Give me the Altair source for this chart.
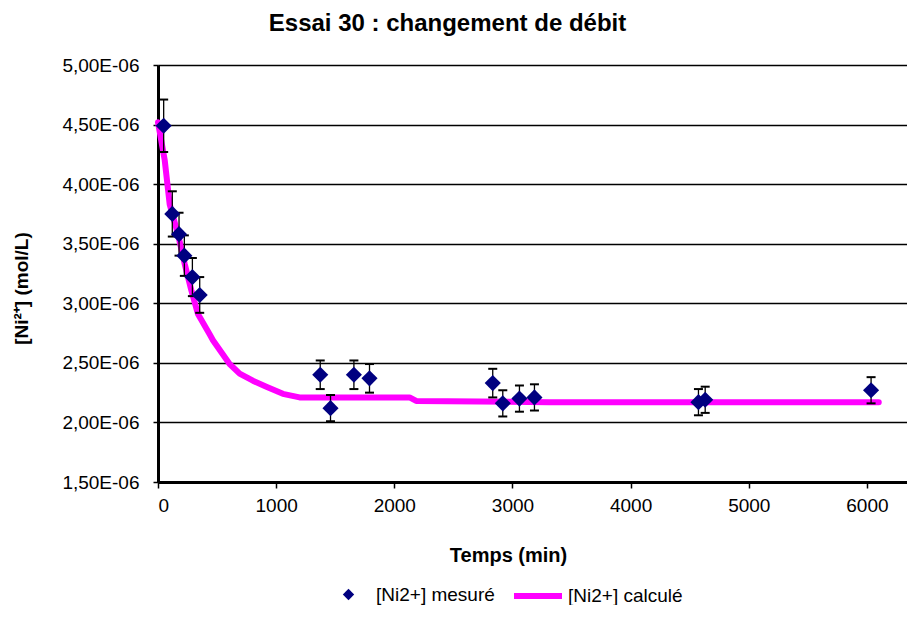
import altair as alt
import pandas as pd

FONT = "Liberation Sans"

# Measured points (time in min, concentration in 1e-6 mol/L, error bar half-width)
t_mesure = [48, 121, 178, 223, 291, 353, 1373, 1460, 1658, 1790, 2833, 2918, 3059, 3186, 4574, 4631, 6035]
c_mesure = [4.49, 3.75, 3.58, 3.40, 3.22, 3.07, 2.40, 2.12, 2.40, 2.37, 2.33, 2.16, 2.20, 2.21, 2.17, 2.19, 2.27]
err_mesure = [0.22, 0.19, 0.18, 0.17, 0.16, 0.15, 0.12, 0.11, 0.12, 0.12, 0.12, 0.11, 0.11, 0.11, 0.11, 0.11, 0.11]

# Calculated curve
t_calcule = [0, 57, 99, 169, 226, 282, 338, 437, 465, 606, 691, 803, 917, 1057, 1198, 2129, 2185, 3312, 6100]
c_calcule = [4.52, 4.20, 3.83, 3.58, 3.33, 3.11, 2.91, 2.74, 2.69, 2.49, 2.41, 2.35, 2.30, 2.24, 2.21, 2.21, 2.18, 2.17, 2.17]

x_ticks = [0, 1000, 2000, 3000, 4000, 5000, 6000]
y_ticks = [1.5, 2.0, 2.5, 3.0, 3.5, 4.0, 4.5, 5.0]

serie_mes = "[Ni2+] mesuré"
serie_calc = "[Ni2+] calculé"

mes = pd.DataFrame({
    "t": t_mesure,
    "c": [v * 1e-6 for v in c_mesure],
    "lo": [(v - e) * 1e-6 for v, e in zip(c_mesure, err_mesure)],
    "hi": [(v + e) * 1e-6 for v, e in zip(c_mesure, err_mesure)],
    "serie": serie_mes,
})
calc = pd.DataFrame({
    "t": t_calcule,
    "c": [v * 1e-6 for v in c_calcule],
    "serie": serie_calc,
})

xscale = alt.Scale(domain=[0, 6339], nice=False, zero=False)
yscale = alt.Scale(domain=[1.5e-6, 5.0e-6], nice=False, zero=False)

x_axis = alt.Axis(
    values=x_ticks, format="d", grid=False,
    title="Temps (min)", titleX=350, titleY=79, titleBaseline="alphabetic",
    titleFontSize=20, titleFontWeight="bold",
    labelFontSize=19, labelPadding=8, tickSize=6,
)
y_axis = alt.Axis(
    values=[v * 1e-6 for v in y_ticks],
    labelExpr="replace(format(datum.value*1e6, '.2f'), '.', ',') + 'E-06'",
    grid=True, gridColor="black", gridWidth=1.5,
    title="[Ni²⁺] (mol/L)", titleX=-131, titleY=223, titleAngle=270,
    titleBaseline="alphabetic", titleFontSize=19, titleFontWeight="bold",
    labelFontSize=19, labelPadding=14, tickSize=5,
)

X = lambda f: alt.X(f, type="quantitative", scale=xscale, axis=x_axis)
Y = lambda f: alt.Y(f, type="quantitative", scale=yscale, axis=y_axis)

line = alt.Chart(calc).mark_line(strokeWidth=6, strokeCap="round", strokeJoin="round").encode(
    x=X("t"),
    y=Y("c"),
    stroke=alt.Stroke(
        "serie:N", title=None,
        scale=alt.Scale(domain=[serie_calc], range=["#FF00FF"]),
        legend=alt.Legend(orient="none", legendX=353, legendY=504, symbolType="stroke",
                          symbolSize=2304, symbolStrokeWidth=6, labelOffset=3),
    ),
)

bars = alt.Chart(mes).mark_rule(color="black", strokeWidth=1.3).encode(
    x=X("t"),
    y=Y("lo"),
    y2="hi:Q",
)
cap_hi = alt.Chart(mes).mark_point(shape="stroke", size=81, color="black", strokeWidth=2,
                                   filled=False, opacity=1).encode(
    x=X("t"),
    y=Y("hi"),
)
cap_lo = alt.Chart(mes).mark_point(shape="stroke", size=81, color="black", strokeWidth=2,
                                   filled=False, opacity=1).encode(
    x=X("t"),
    y=Y("lo"),
)

points = alt.Chart(mes).mark_point(shape="diamond", filled=True, size=260, opacity=1).encode(
    x=X("t"),
    y=Y("c"),
    color=alt.Color(
        "serie:N", title=None,
        scale=alt.Scale(domain=[serie_mes], range=["#000080"]),
        legend=alt.Legend(orient="none", legendX=181, legendY=520, symbolSize=130, labelOffset=18),
    ),
)

chart = alt.layer(line, bars, cap_hi, cap_lo, points).properties(
    width=749,
    height=417,
    autosize=alt.AutoSizeParams(type="none"),
    padding={"left": 150, "top": 57, "right": 0, "bottom": 123},
    title=alt.TitleParams(
        "Essai 30 : changement de débit", fontSize=24, fontWeight="bold", font=FONT,
        anchor="middle", frame="group", dx=-85, baseline="alphabetic", offset=1, color="black",
    ),
).configure(
    font=FONT,
).configure_view(
    strokeWidth=0,
).configure_axis(
    domainColor="black", domainWidth=3, tickColor="black", tickWidth=1.5,
    labelColor="black", titleColor="black", labelFont=FONT, titleFont=FONT,
).configure_legend(
    labelFont=FONT, labelFontSize=19, labelColor="black", padding=0,
)

chart.save("out.html", embed_options={"renderer": "svg", "actions": False})
